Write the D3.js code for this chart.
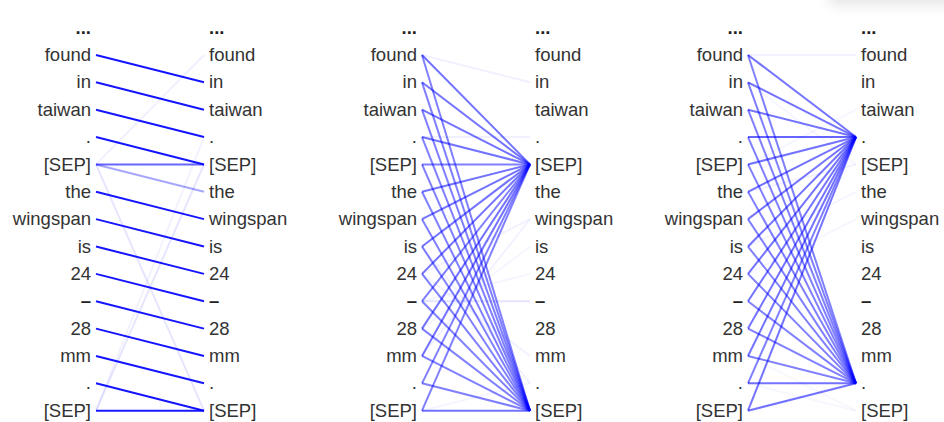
<!DOCTYPE html>
<html>
<head>
<meta charset="utf-8">
<script src="https://cdn.jsdelivr.net/npm/d3@7"></script>
<style>
  body { margin: 0; background: #fff; }
  text { font-family: "Liberation Sans", Arial, sans-serif; font-size: 18.5px; fill: #333; }
  text.mark { font-weight: bold; fill: #222; }
</style>
</head>
<body>
<svg id="chart"></svg>
<script>
const tokens = ["...", "found", "in", "taiwan", ".", "[SEP]", "the", "wingspan",
    "is", "24", "\u2013", "28", "mm", ".", "[SEP]"];

// [from left token, to right token, attention weight]
const headNext = [
    [1, 2, 0.92], [2, 3, 0.92], [3, 4, 0.92], [4, 5, 0.92],
    [5, 5, 0.6], [5, 6, 0.35], [5, 1, 0.06], [5, 14, 0.1],
    [6, 7, 0.92], [7, 8, 0.92], [8, 9, 0.92], [9, 10, 0.92],
    [10, 11, 0.92], [11, 12, 0.92], [12, 13, 0.92], [13, 14, 0.92],
    [14, 14, 0.9], [14, 5, 0.1], [14, 4, 0.05]
];

const headSep = [
    [1, 5, 0.55], [1, 14, 0.5], [2, 5, 0.55], [2, 14, 0.5],
    [3, 5, 0.55], [3, 14, 0.5], [4, 5, 0.55], [4, 14, 0.5],
    [5, 5, 0.5], [5, 14, 0.5], [6, 5, 0.55], [6, 14, 0.5],
    [7, 5, 0.55], [7, 14, 0.5], [8, 5, 0.55], [8, 14, 0.5],
    [9, 5, 0.55], [9, 14, 0.5], [10, 5, 0.5], [10, 14, 0.5],
    [11, 5, 0.55], [11, 14, 0.5], [12, 5, 0.55], [12, 14, 0.5],
    [13, 5, 0.5], [13, 14, 0.5], [14, 5, 0.5], [14, 14, 0.55],
    [1, 2, 0.06], [4, 4, 0.06], [10, 10, 0.1], [9, 7, 0.05], [12, 7, 0.05],
    [11, 8, 0.04], [9, 12, 0.05], [8, 13, 0.05], [14, 13, 0.04], [10, 9, 0.04]
];

const headDot = [
    [1, 4, 0.55], [1, 13, 0.5], [2, 4, 0.55], [2, 13, 0.5],
    [3, 4, 0.55], [3, 13, 0.5], [4, 4, 0.6], [4, 13, 0.5],
    [5, 4, 0.55], [5, 13, 0.5], [6, 4, 0.55], [6, 13, 0.5],
    [7, 4, 0.55], [7, 13, 0.5], [8, 4, 0.55], [8, 13, 0.5],
    [9, 4, 0.55], [9, 13, 0.5], [10, 4, 0.55], [10, 13, 0.5],
    [11, 4, 0.55], [11, 13, 0.5], [12, 4, 0.55], [12, 13, 0.5],
    [13, 4, 0.5], [13, 13, 0.55], [14, 4, 0.55], [14, 13, 0.55],
    [1, 1, 0.05], [2, 5, 0.04], [6, 5, 0.05], [8, 6, 0.04], [9, 7, 0.04],
    [12, 14, 0.03], [13, 14, 0.03], [5, 3, 0.04]
];

const heads = [headNext, headSep, headDot];

const width = 944;
const height = 422;
const lineWidth = 108;
const textGap = 5;

let svg = d3.select('#chart')
    .attr('width', width)
    .attr('height', height);

let xScale = d3.scalePoint()
    .domain(d3.range(heads.length))
    .range([96, 748]);

let yScale = d3.scalePoint()
    .domain(d3.range(tokens.length))
    .range([27.6, 410.7]);

// soft grey shadow at the top right edge
let defs = svg.append('defs');
defs.append('filter')
    .attr('id', 'blur')
    .attr('x', '-50%').attr('y', '-50%').attr('width', '200%').attr('height', '200%')
    .append('feGaussianBlur')
    .attr('stdDeviation', 7);
svg.append('rect')
    .attr('x', 830).attr('y', -22)
    .attr('width', 150).attr('height', 26)
    .attr('fill', '#e2e2e2')
    .attr('filter', 'url(#blur)');

let isMark = d => d === '...' || d === '\u2013';

let drawHead = (links, h) => {
    let x0 = xScale(h);
    let g = svg.append('g').attr('class', 'head');

    g.selectAll('line')
        .data(links)
        .enter()
        .append('line')
        .attr('x1', x0)
        .attr('y1', d => yScale(d[0]))
        .attr('x2', x0 + lineWidth)
        .attr('y2', d => yScale(d[1]))
        .attr('stroke', 'blue')
        .attr('stroke-width', 2)
        .attr('stroke-opacity', d => d[2]);

    g.selectAll('text.left')
        .data(tokens)
        .enter()
        .append('text')
        .attr('class', d => isMark(d) ? 'left mark' : 'left')
        .attr('x', x0 - textGap)
        .attr('y', (d, i) => yScale(i))
        .attr('dy', '0.33em')
        .attr('text-anchor', 'end')
        .text(d => d);

    g.selectAll('text.right')
        .data(tokens)
        .enter()
        .append('text')
        .attr('class', d => isMark(d) ? 'right mark' : 'right')
        .attr('x', x0 + lineWidth + textGap)
        .attr('y', (d, i) => yScale(i))
        .attr('dy', '0.33em')
        .attr('text-anchor', 'start')
        .text(d => d);
};

heads.forEach((links, h) => drawHead(links, h));
</script>
</body>
</html>
